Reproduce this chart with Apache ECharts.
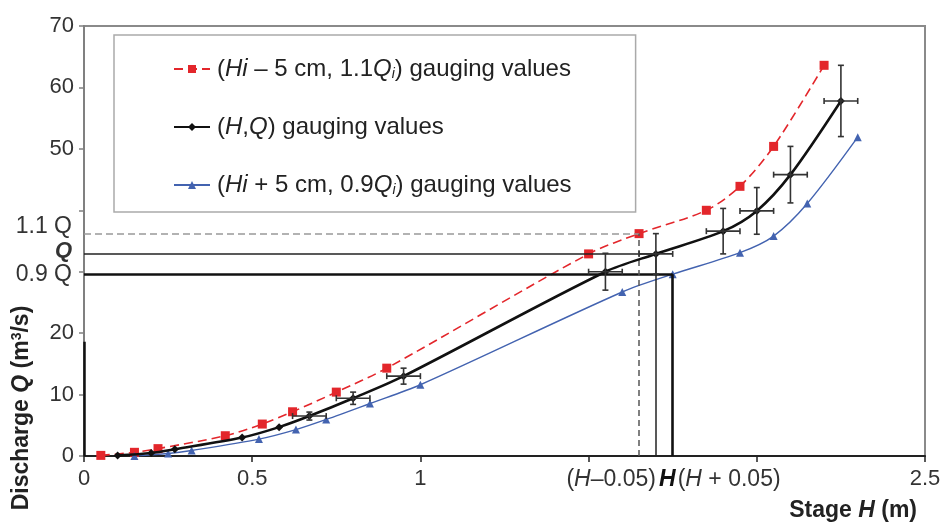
<!DOCTYPE html>
<html>
<head>
<meta charset="utf-8">
<script src="https://cdn.jsdelivr.net/npm/echarts@6/dist/echarts.min.js"></script>
<style>
  html, body { margin: 0; padding: 0; background: #fff; }
  #chart { width: 946px; height: 525px; }
</style>
</head>
<body>
<div id="chart"></div>
<script>
// (H, Q) gauging values
const stageH = [0.10, 0.20, 0.27, 0.47, 0.58, 0.67, 0.80, 0.95, 1.55, 1.70, 1.90, 2.00, 2.10, 2.25]
const dischargeQ = [0.1, 0.5, 1.1, 3.0, 4.7, 6.5, 9.4, 13.0, 30.0, 32.9, 36.6, 39.9, 45.8, 57.8]
// error bars on the (H, Q) points (null = no bar)
const errStage = [null, null, null, null, null, 0.05, 0.05, 0.05, 0.05, 0.05, 0.05, 0.05, 0.05, 0.05]
const errQ = [null, null, null, null, null, 0.65, 1.0, 1.3, 3.0, 3.3, 3.7, 3.8, 4.6, 5.8]
// (Hi - 5 cm, 1.1 Qi)
const stageLow = [0.05, 0.15, 0.22, 0.42, 0.53, 0.62, 0.75, 0.90, 1.50, 1.65, 1.85, 1.95, 2.05, 2.20]
const dischargeHigh = [0.1, 0.6, 1.2, 3.3, 5.2, 7.2, 10.4, 14.3, 32.9, 36.2, 40.0, 43.9, 50.4, 63.6]
// (Hi + 5 cm, 0.9 Qi)
const stageHigh = [0.15, 0.25, 0.32, 0.52, 0.63, 0.72, 0.85, 1.00, 1.60, 1.75, 1.95, 2.05, 2.15, 2.30]
const dischargeLow = [0.0, 0.4, 0.9, 2.75, 4.3, 5.95, 8.55, 11.6, 26.7, 29.6, 33.1, 35.8, 41.1, 51.9]

// reference levels
const refQ = [36.2, 32.9, 29.6]          // 1.1 Q, Q, 0.9 Q
const refH = [1.65, 1.70, 1.75]          // H - 0.05, H, H + 0.05
const hiddenYTicks = [30, 40]
const hiddenXTicks = [1.5, 2]
const leftAxisMark = 18.6

const FONT = 'Liberation Sans, Arial, sans-serif'
const RED = '#e3262b'
const BLUE = '#4363b0'

const seriesNames = [
  '(Hi – 5 cm, 1.1Qi) gauging values',
  '(H,Q) gauging values',
  '(Hi + 5 cm, 0.9Qi) gauging values',
]
const legendRich = [
  '{n|(}{i|Hi}{n| – 5 cm, 1.1}{i|Q}{s|i}{n|) gauging values}',
  '{n|(}{i|H}{n|,}{i|Q}{n|) gauging values}',
  '{n|(}{i|Hi}{n| + 5 cm, 0.9}{i|Q}{s|i}{n|) gauging values}',
]

const chart = echarts.init(document.getElementById('chart'), null, { renderer: 'canvas' })

function pairs(xs, ys) {
  return xs.map((x, i) => [x, ys[i]])
}

function errorBars(params, api) {
  const x = api.value(0)
  const y = api.value(1)
  const ex = api.value(2)
  const ey = api.value(3)
  const l = api.coord([x - ex, y])
  const r = api.coord([x + ex, y])
  const t = api.coord([x, y + ey])
  const b = api.coord([x, y - ey])
  const cap = 3
  const style = { stroke: '#333', lineWidth: 1.6 }
  const seg = (x1, y1, x2, y2) => ({ type: 'line', shape: { x1, y1, x2, y2 }, style })
  return {
    type: 'group',
    children: [
      seg(l[0], l[1], r[0], r[1]),
      seg(l[0], l[1] - cap, l[0], l[1] + cap),
      seg(r[0], r[1] - cap, r[0], r[1] + cap),
      seg(t[0], t[1], b[0], b[1]),
      seg(t[0] - cap, t[1], t[0] + cap, t[1]),
      seg(b[0] - cap, b[1], b[0] + cap, b[1]),
    ],
  }
}

const guideLabel = (text, bold, dy) => ({
  show: true,
  position: 'start',
  distance: 12,
  offset: [0, dy],
  formatter: text,
  color: '#333',
  fontFamily: FONT,
  fontSize: bold ? 22 : 23,
  fontWeight: bold ? 'bold' : 'normal',
  fontStyle: bold ? 'italic' : 'normal',
})

const guideLines = [
  [{ coord: [0, refQ[0]], lineStyle: { color: '#999', width: 1.6, type: [7, 4] }, label: guideLabel('1.1 Q', false, -7) },
    { coord: [refH[0], refQ[0]] }],
  [{ coord: [0, refQ[1]], lineStyle: { color: '#222', width: 1.5, type: 'solid' }, label: guideLabel('Q', true, -3) },
    { coord: [refH[1], refQ[1]] }],
  [{ coord: [0, refQ[2]], lineStyle: { color: '#111', width: 2.6, type: 'solid' }, label: guideLabel('0.9 Q', false, 0) },
    { coord: [refH[2], refQ[2]] }],
  [{ coord: [refH[0], 0], lineStyle: { color: '#555', width: 1.5, type: [6, 4] }, label: { show: false } },
    { coord: [refH[0], refQ[0]] }],
  [{ coord: [refH[1], 0], lineStyle: { color: '#222', width: 1.5, type: 'solid' }, label: { show: false } },
    { coord: [refH[1], refQ[1]] }],
  [{ coord: [refH[2], 0], lineStyle: { color: '#111', width: 2.6, type: 'solid' }, label: { show: false } },
    { coord: [refH[2], refQ[2]] }],
  [{ coord: [0, 0], lineStyle: { color: '#111', width: 2.5, type: 'solid' }, label: { show: false } },
    { coord: [0, leftAxisMark] }],
]

const option = {
  animation: false,
  backgroundColor: '#fff',
  grid: {
    left: 84, right: 21, top: 26, bottom: 69,
    show: true, borderColor: '#8a8a8a', borderWidth: 2, backgroundColor: 'transparent',
  },
  legend: {
    data: seriesNames,
    orient: 'vertical',
    left: 114,
    top: 35,
    padding: [22, 64, 15, 59],
    itemGap: 34,
    itemWidth: 36,
    itemHeight: 10,
    borderColor: '#aaa',
    borderWidth: 1.5,
    backgroundColor: '#fff',
    formatter: (name) => legendRich[seriesNames.indexOf(name)],
    textStyle: {
      color: '#222',
      fontFamily: FONT,
      fontSize: 24,
      padding: [0, 0, 0, 2],
      rich: {
        n: { fontFamily: FONT, fontSize: 24, color: '#222' },
        i: { fontFamily: FONT, fontSize: 24, fontStyle: 'italic', color: '#222' },
        s: { fontFamily: FONT, fontSize: 14, fontStyle: 'italic', color: '#222', verticalAlign: 'bottom', padding: [10, 0, 0, 0] },
      },
    },
  },
  xAxis: {
    type: 'value',
    min: 0,
    max: 2.5,
    interval: 0.5,
    splitLine: { show: false },
    axisLine: { onZero: false, lineStyle: { color: '#222', width: 2 } },
    axisTick: { length: 6, lineStyle: { color: '#222', width: 1.5 } },
    axisLabel: {
      margin: 12,
      color: '#333',
      fontFamily: FONT,
      fontSize: 22,
      formatter: (v) => (hiddenXTicks.includes(v) ? '' : String(v)),
    },
  },
  yAxis: {
    type: 'value',
    min: 0,
    max: 70,
    interval: 10,
    splitLine: { show: false },
    axisLine: { onZero: false, lineStyle: { color: '#808080', width: 2 } },
    axisTick: { length: 5, lineStyle: { color: '#808080', width: 1.5 } },
    axisLabel: {
      margin: 10,
      color: '#333',
      fontFamily: FONT,
      fontSize: 22,
      formatter: (v) => (hiddenYTicks.includes(v) ? '' : String(v)),
    },
  },
  series: [
    {
      name: seriesNames[0],
      type: 'line',
      data: pairs(stageLow, dischargeHigh),
      smooth: 0.3,
      symbol: 'rect',
      symbolSize: 9,
      itemStyle: { color: RED },
      lineStyle: { color: RED, width: 1.6, type: [9, 5] },
      z: 3,
    },
    {
      name: seriesNames[1],
      type: 'line',
      data: pairs(stageH, dischargeQ),
      smooth: 0.3,
      symbol: 'diamond',
      symbolSize: 8,
      itemStyle: { color: '#111' },
      lineStyle: { color: '#111', width: 2.6 },
      z: 5,
    },
    {
      name: seriesNames[2],
      type: 'line',
      data: pairs(stageHigh, dischargeLow),
      smooth: 0.3,
      symbol: 'triangle',
      symbolSize: 8,
      itemStyle: { color: BLUE },
      lineStyle: { color: BLUE, width: 1.4 },
      z: 3,
    },
    {
      name: 'errors',
      type: 'custom',
      renderItem: errorBars,
      data: stageH
        .map((h, i) => [h, dischargeQ[i], errStage[i], errQ[i]])
        .filter((d) => d[3] != null),
      z: 6,
      markLine: {
        silent: true,
        symbol: ['none', 'none'],
        data: guideLines,
      },
    },
  ],
}

chart.setOption(option)

// stage labels under the guide lines and the two axis titles
function placeText() {
  const at = (h) => chart.convertToPixel({ gridIndex: 0 }, [h, 0])
  const y = at(refH[1])[1] + 24
  const base = { fontFamily: FONT, fontSize: 23, fill: '#333' }
  const rich = {
    n: { fontFamily: FONT, fontSize: 23, fill: '#333' },
    i: { fontFamily: FONT, fontSize: 23, fill: '#333', fontStyle: 'italic' },
    b: { fontFamily: FONT, fontSize: 23, fill: '#111', fontStyle: 'italic', fontWeight: 'bold' },
    sup: { fontFamily: FONT, fontSize: 14, fill: '#222', fontWeight: 'bold', verticalAlign: 'top' },
    bi: { fontFamily: FONT, fontSize: 23, fill: '#222', fontStyle: 'italic', fontWeight: 'bold' },
    bn: { fontFamily: FONT, fontSize: 23, fill: '#222', fontWeight: 'bold' },
  }
  chart.setOption({
    graphic: [
      { type: 'text', x: at(refH[1])[0], y, style: Object.assign({}, base, { text: '{n|(}{i|H}{n|–0.05)}', rich, align: 'right', verticalAlign: 'middle' }) },
      { type: 'text', x: at(refH[1])[0] + 3, y, style: Object.assign({}, base, { text: '{b|H}', rich, align: 'left', verticalAlign: 'middle' }) },
      { type: 'text', x: at(refH[2])[0] + 5, y, style: Object.assign({}, base, { text: '{n|(}{i|H}{n| + 0.05)}', rich, align: 'left', verticalAlign: 'middle' }) },
      { type: 'text', x: 917, y: 511, style: Object.assign({}, base, { text: '{bn|Stage }{bi|H}{bn| (m)}', rich, align: 'right', verticalAlign: 'middle' }) },
      { type: 'text', x: 22, y: 408, rotation: Math.PI / 2, style: Object.assign({}, base, { text: '{bn|Discharge }{bi|Q}{bn| (m}{sup|3}{bn|/s)}', rich, align: 'center', verticalAlign: 'middle' }) },
    ],
  })
}
placeText()
</script>
</body>
</html>
